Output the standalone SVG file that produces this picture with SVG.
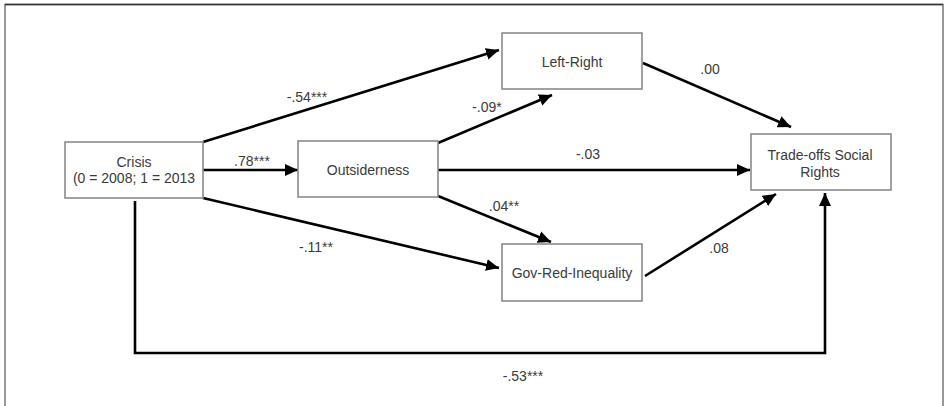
<svg xmlns="http://www.w3.org/2000/svg" width="948" height="406" viewBox="0 0 948 406">
<style>
.box{fill:#fff;stroke:#8a8a8a;stroke-width:1.6}
.t{font-family:"Liberation Sans",Arial,sans-serif;font-size:14px;fill:#3a3a3a;text-anchor:middle}
.c{fill:none;stroke:#000;stroke-width:2.6}
</style>
<defs>
<marker id="ah" markerUnits="userSpaceOnUse" markerWidth="16" markerHeight="14" refX="13" refY="6" orient="auto" viewBox="0 0 16 12">
<path d="M0,0 L13,6 L0,12 Z" fill="#000"/>
</marker>
</defs>
<rect width="948" height="406" fill="#fff"/>
<path d="M5,406 V4.5 H943 V406" fill="none" stroke="#777" stroke-width="1.5"/>
<line x1="5" y1="4.5" x2="943" y2="4.5" stroke="#333" stroke-width="1.5"/>
<g id="connectors">
<line class="c" x1="203" y1="142" x2="499" y2="50" marker-end="url(#ah)"/>
<line class="c" x1="203" y1="170" x2="298" y2="170" marker-end="url(#ah)"/>
<line class="c" x1="203" y1="198" x2="499" y2="268" marker-end="url(#ah)"/>
<line class="c" x1="438" y1="143" x2="552" y2="95" marker-end="url(#ah)"/>
<line class="c" x1="438" y1="170" x2="750" y2="170" marker-end="url(#ah)"/>
<line class="c" x1="438" y1="196" x2="551" y2="242" marker-end="url(#ah)"/>
<line class="c" x1="643" y1="63" x2="791" y2="127" marker-end="url(#ah)"/>
<line class="c" x1="645" y1="276" x2="776" y2="194" marker-end="url(#ah)"/>
<path class="c" d="M135,201 V353 H825 V193" marker-end="url(#ah)"/>
<text class="t" x="307" y="102">-.54***</text>
<text class="t" x="252" y="166">.78***</text>
<text class="t" x="316" y="252">-.11**</text>
<text class="t" x="487" y="112">-.09*</text>
<text class="t" x="588" y="159">-.03</text>
<text class="t" x="504" y="211">.04**</text>
<text class="t" x="710" y="74">.00</text>
<text class="t" x="719" y="253">.08</text>
<text class="t" x="523" y="381">-.53***</text>
</g>
<g id="crisis">
<rect class="box" x="65" y="142" width="138" height="56"/>
<text class="t" x="134" y="167">Crisis</text>
<text class="t" x="134" y="183">(0 = 2008; 1 = 2013</text>
</g>
<g id="outsiderness">
<rect class="box" x="298" y="141" width="140" height="56"/>
<text class="t" x="368" y="175">Outsiderness</text>
</g>
<g id="left-right">
<rect class="box" x="502" y="33" width="140" height="56"/>
<text class="t" x="572" y="67">Left-Right</text>
</g>
<g id="gov-red-inequality">
<rect class="box" x="502" y="244" width="140" height="57"/>
<text class="t" x="572" y="278">Gov-Red-Inequality</text>
</g>
<g id="trade-offs">
<rect class="box" x="751" y="134" width="140" height="56"/>
<text class="t" x="820" y="160">Trade-offs Social</text>
<text class="t" x="820" y="177">Rights</text>
</g>
</svg>
